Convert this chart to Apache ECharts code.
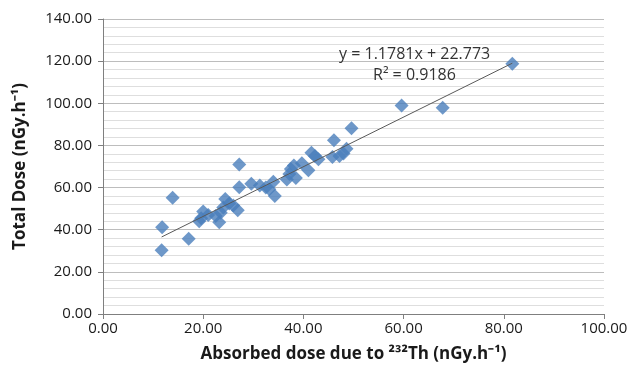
<!DOCTYPE html>
<html><head><meta charset="utf-8">
<script src="https://cdn.jsdelivr.net/npm/echarts@6/dist/echarts.min.js"></script>
<style>html,body{margin:0;padding:0;background:#fff}#c{width:634px;height:377px}</style>
</head><body><div id="c"></div>
<script>
const thDose = [11.7,11.8,13.9,17.1,19.2,19.6,20.0,21.0,22.5,23.2,23.5,24.0,24.4,25.2,26.0,26.9,27.2,27.2,29.6,31.3,32.5,33.2,34.0,34.3,36.7,37.2,37.5,38.1,38.5,39.7,41.0,41.6,42.3,43.0,45.8,46.1,47.2,48.0,48.6,49.6,59.6,67.8,81.7];
const totalDose = [30.2,41.2,55.2,35.7,44.0,45.5,48.6,47.0,46.5,43.5,48.0,50.5,54.6,52.5,51.5,49.2,60.2,70.9,61.8,61.0,60.0,59.2,62.8,56.0,63.8,66.5,68.8,70.5,64.6,71.6,68.2,76.5,75.0,73.5,74.5,82.4,75.0,76.2,78.4,88.1,99.0,97.9,118.8];
const trendSlope = 1.1781, trendIntercept = 22.773;
const trendX = [11.7, 81.7];
const eqText = ['y = 1.1781x + 22.773', 'R² = 0.9186'];
const xTitle = 'Absorbed dose due to ²³²Th (nGy.h⁻¹)';
const yTitle = 'Total Dose (nGy.h⁻¹)';

const chart = echarts.init(document.getElementById('c'));
const pts = thDose.map((x,i)=>[x,totalDose[i]]);
const trend = trendX.map(x=>[x, trendSlope*x+trendIntercept]);
const font = "'Open Sans', 'Liberation Sans', sans-serif";
chart.setOption({
  animation:false,
  title:[
    {text:eqText[0],left:339,top:46,padding:0,textStyle:{fontSize:16,fontWeight:'normal',fontFamily:font,color:'#333'}},
    {text:eqText[1],left:373,top:67,padding:0,textStyle:{fontSize:16,fontWeight:'normal',fontFamily:font,color:'#333'}}
  ],
  grid:{left:103,right:30,top:19,bottom:63},
  xAxis:{type:'value',min:0,max:100,interval:20,
    axisLine:{show:true,onZero:false,lineStyle:{color:'#7f7f7f',width:1}},
    axisTick:{show:true,length:5,lineStyle:{color:'#7f7f7f'}},
    axisLabel:{formatter:v=>v.toFixed(2),color:'#1a1a1a',fontSize:15,fontFamily:font,margin:7},
    splitLine:{show:false},
    name:xTitle,nameLocation:'middle',nameGap:32,
    nameTextStyle:{fontWeight:'bold',fontSize:17,color:'#1a1a1a',fontFamily:font}
  },
  yAxis:{type:'value',min:0,max:140,interval:20,
    axisLine:{show:true,onZero:false,lineStyle:{color:'#7f7f7f',width:1}},
    axisTick:{show:true,length:5,lineStyle:{color:'#7f7f7f'}},
    axisLabel:{formatter:v=>v.toFixed(2),color:'#1a1a1a',fontSize:15,fontFamily:font,margin:11},
    splitLine:{show:true,lineStyle:{color:'#bdbdbd',width:1}},
    minorTick:{show:false,splitNumber:5},
    minorSplitLine:{show:true,lineStyle:{color:'#dedede',width:1}},
    name:yTitle,nameLocation:'middle',nameGap:74,nameRotate:90,
    nameTextStyle:{fontWeight:'bold',fontSize:17,color:'#1a1a1a',fontFamily:font}
  },
  series:[
    {type:'scatter',data:pts,symbol:'diamond',symbolSize:14,
     itemStyle:{color:'#4a7ebb'},z:3},
    {type:'line',data:trend,symbol:'none',lineStyle:{color:'#595959',width:1},z:4,
     silent:true}
  ]
});
</script></body></html>
